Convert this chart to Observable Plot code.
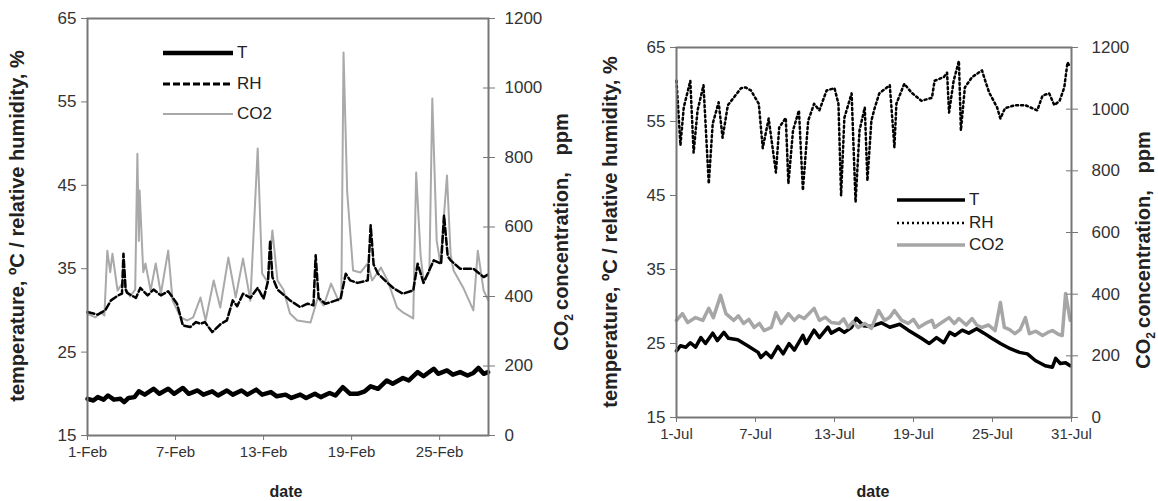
<!DOCTYPE html>
<html>
<head>
<meta charset="utf-8">
<script src="https://cdn.jsdelivr.net/npm/d3@7"></script>
<script src="https://cdn.jsdelivr.net/npm/@observablehq/plot@0.6"></script>
<style>
  html, body { margin: 0; padding: 0; background: #fff; }
  #wrap { position: relative; width: 1158px; height: 501px; font-family: "Liberation Sans", Arial, Helvetica, sans-serif; color: #333; }
  .panel { position: absolute; top: 0; }
  .ytitle { position: absolute; font-weight: bold; font-size: 20px; color: #222; white-space: nowrap; transform: translate(-50%, -50%) rotate(-90deg); }
  .xtitle { position: absolute; font-weight: bold; font-size: 16px; color: #222; transform: translate(-50%, -50%); }
  .leg { position: absolute; font-size: 17px; color: #222; }
  .leg .row { position: absolute; display: flex; align-items: center; white-space: nowrap; }
  .leg svg { display: block; margin-right: 4px; }
  sub { font-size: 12px; }
</style>
</head>
<body>
<div id="wrap"></div>
<script>
// ---------------- DATA ----------------
// [day of month (fractional), value]
const febTemp = [
  [1.0,19.4],[1.4,19.2],[1.7,19.6],[2.1,19.3],[2.4,19.8],[2.8,19.3],[3.25,19.4],[3.5,19.0],[3.8,19.5],[4.2,19.6],
  [4.5,20.3],[4.9,19.9],[5.5,20.6],[5.9,20.0],[6.5,20.6],[6.9,20.0],[7.5,20.7],[7.9,20.0],[8.5,20.4],[8.9,19.9],
  [9.5,20.3],[9.9,19.8],[10.5,20.4],[10.9,19.9],[11.5,20.4],[11.9,19.9],[12.5,20.5],[12.9,19.9],[13.5,20.2],[13.9,19.7],
  [14.5,19.9],[14.9,19.5],[15.5,19.9],[15.9,19.5],[16.5,20.0],[16.9,19.6],[17.5,20.1],[17.9,19.8],[18.4,20.8],[18.9,20.0],
  [19.4,20.0],[19.9,20.3],[20.3,20.9],[20.8,20.6],[21.4,21.6],[21.8,21.2],[22.5,21.9],[22.9,21.6],[23.5,22.6],[23.9,22.1],
  [24.6,23.0],[24.9,22.4],[25.5,22.8],[25.9,22.3],[26.4,22.6],[26.9,22.2],[27.3,22.5],[27.65,23.1],[28.0,22.4],[28.3,22.6]
];
const febRH = [
  [1.0,29.8],[1.7,29.5],[2.2,30.0],[2.6,31.2],[3.1,31.8],[3.35,32.0],[3.45,36.8],[3.6,32.5],[3.7,32.1],[4.3,31.5],
  [4.6,32.7],[5.1,31.8],[5.5,32.5],[6.0,31.8],[6.5,32.3],[7.1,30.8],[7.5,28.2],[8.0,28.0],[8.4,28.6],[8.7,28.4],
  [9.0,28.6],[9.5,27.4],[10.1,28.4],[10.5,28.8],[10.9,31.2],[11.2,30.5],[11.6,32.0],[12.1,31.5],[12.6,32.7],[13.0,31.4],
  [13.3,33.5],[13.45,38.4],[13.6,34.0],[13.95,32.5],[14.8,31.2],[15.5,30.4],[16.0,30.8],[16.4,30.6],[16.55,36.6],[16.75,31.5],
  [17.2,30.8],[17.6,31.0],[18.25,31.4],[18.6,34.4],[18.9,33.6],[19.4,33.3],[20.1,33.6],[20.3,40.2],[20.5,35.5],[20.8,34.4],
  [21.45,33.3],[21.9,32.6],[22.5,32.0],[23.2,32.4],[23.5,35.6],[23.9,33.3],[24.6,36.0],[25.1,35.6],[25.3,41.4],[25.55,36.5],
  [25.75,36.0],[26.4,35.0],[27.3,35.0],[28.0,34.0],[28.3,34.3]
];
const febCO2 = [
  [1.0,350],[1.55,340],[1.9,355],[2.15,345],[2.35,532],[2.55,470],[2.7,523],[3.05,417],[3.4,440],[3.9,400],
  [4.25,420],[4.4,811],[4.5,560],[4.55,705],[4.8,470],[4.95,495],[5.3,417],[5.65,495],[6.0,408],[6.5,532],
  [6.8,388],[7.35,340],[7.8,331],[8.2,340],[8.7,397],[9.05,331],[9.6,446],[10.05,368],[10.6,512],[11.1,397],
  [11.6,509],[12.1,388],[12.6,826],[12.9,466],[13.3,440],[13.6,590],[13.95,446],[14.35,420],[14.8,351],[15.3,331],
  [16.2,325],[16.7,397],[17.1,374],[17.6,437],[18.1,388],[18.3,400],[18.45,1102],[18.7,700],[19.1,475],[19.6,469],
  [20.1,495],[20.4,446],[21.0,483],[21.45,446],[22.1,368],[22.5,354],[23.2,337],[23.4,757],[23.7,520],[23.9,446],
  [24.3,470],[24.5,970],[24.8,560],[25.05,495],[25.5,748],[25.75,520],[25.95,475],[26.6,426],[27.3,360],[27.6,532],
  [28.0,417],[28.3,390]
];
const julTemp = [
  [1.0,24.0],[1.3,24.7],[1.7,24.5],[2.05,25.1],[2.45,24.5],[2.85,25.8],[3.2,25.0],[3.75,26.4],[4.1,25.4],[4.6,26.5],
  [4.95,25.7],[5.65,25.5],[6.4,24.7],[7.2,23.8],[7.4,23.1],[7.8,23.8],[8.2,23.1],[8.7,24.6],[9.1,23.6],[9.55,25.0],
  [9.95,24.1],[10.6,26.1],[10.85,25.0],[11.45,26.8],[11.85,25.8],[12.5,27.2],[12.75,26.4],[13.35,27.0],[13.75,26.5],[14.3,27.2],
  [14.65,28.4],[15.2,27.4],[15.8,27.3],[16.55,27.8],[17.2,27.2],[17.95,27.6],[18.6,26.8],[19.6,25.7],[20.2,25.0],[20.75,25.8],
  [21.3,25.1],[21.75,26.5],[22.15,26.1],[22.7,26.8],[23.2,26.4],[23.8,27.0],[24.35,26.4],[24.95,25.7],[25.6,25.0],[26.35,24.3],
  [27.05,23.8],[27.65,23.6],[28.25,22.7],[29.0,22.0],[29.55,21.8],[29.8,23.0],[30.15,22.3],[30.55,22.4],[30.9,22.0]
];
const julRH = [
  [1.0,60.5],[1.3,51.8],[1.55,56.9],[2.05,60.5],[2.3,50.8],[2.6,56.5],[3.05,59.9],[3.45,46.6],[3.75,54.7],[4.2,57.6],
  [4.5,52.8],[4.9,57.2],[5.9,59.5],[6.25,59.6],[6.65,59.2],[7.25,57.4],[7.55,51.4],[8.0,55.4],[8.55,48.1],[8.8,54.2],
  [9.3,55.5],[9.5,46.6],[9.85,53.8],[10.3,56.5],[10.6,45.7],[11.0,55.1],[11.45,57.4],[11.85,56.5],[12.4,59.2],[13.0,59.5],
  [13.3,57.4],[13.5,45.0],[13.75,55.5],[14.3,58.8],[14.6,44.1],[14.9,53.8],[15.3,56.9],[15.5,47.0],[15.8,55.1],[16.05,56.8],
  [16.4,58.8],[17.2,59.9],[17.55,51.5],[17.7,57.4],[18.3,60.1],[18.85,58.9],[19.6,57.8],[20.4,58.2],[20.6,60.5],[21.3,61.0],
  [21.55,61.6],[21.7,56.2],[22.05,60.5],[22.45,63.2],[22.6,53.8],[22.9,59.6],[23.45,61.0],[24.2,61.9],[24.45,60.5],[24.75,58.9],
  [25.35,56.9],[25.6,55.4],[25.95,56.8],[26.7,57.2],[27.5,57.2],[28.4,56.5],[28.8,58.5],[29.3,58.8],[29.7,57.2],[30.1,57.8],
  [30.45,59.6],[30.7,63.0],[30.9,62.3]
];
const julCO2 = [
  [1.0,315],[1.45,337],[1.85,308],[2.45,324],[3.0,315],[3.45,354],[3.8,324],[4.35,396],[4.75,337],[5.35,315],
  [5.7,330],[6.1,305],[6.5,318],[6.9,292],[7.3,305],[7.65,282],[8.2,292],[8.55,340],[8.95,305],[9.5,337],
  [9.95,315],[10.3,330],[10.7,321],[11.45,354],[11.85,315],[12.3,325],[12.75,308],[13.35,305],[13.7,320],[14.05,292],
  [14.4,310],[14.8,292],[15.3,305],[15.8,289],[16.35,347],[16.8,315],[17.2,325],[17.55,347],[18.1,315],[18.6,305],
  [19.0,318],[19.4,292],[19.9,305],[20.4,315],[20.6,292],[21.2,310],[21.7,324],[22.1,305],[22.45,321],[23.0,300],
  [23.45,321],[23.8,300],[24.2,292],[24.7,300],[25.2,282],[25.6,373],[25.9,292],[26.3,285],[26.7,272],[27.1,285],
  [27.5,324],[27.8,272],[28.3,280],[28.8,266],[29.2,276],[29.55,282],[30.0,270],[30.3,266],[30.55,402],[30.9,315]
];
const febTickDays = [1, 7, 13, 19, 25];
const julTickDays = [1, 7, 13, 19, 25, 31];
const leftTicks = [15, 25, 35, 45, 55, 65];
const co2Ticks = [0, 200, 400, 600, 800, 1000, 1200];

// ---------------- HELPERS ----------------
const DAY = 864e5;
const feb0 = Date.UTC(2009, 1, 1);
const jul0 = Date.UTC(2009, 6, 1);
const toDate = (base, d) => new Date(base + (d - 1) * DAY);
const rows = (base, arr) => arr.map(([d, v]) => ({date: toDate(base, d), v}));
const co2ToLeft = c => 15 + c / 24;   // 0..1200 ppm mapped onto 15..65
const fmt = d3.utcFormat("%-d-%b");

function panel(opts) {
  const {base, endDay, temp, rh, co2, tickDays, margins, tWidth, rhDash, rhWidth, co2Width, co2Color, co2OnTop, rightPad} = opts;
  const co2Line = Plot.line(rows(base, co2), {x: "date", y: d => co2ToLeft(d.v), stroke: co2Color, strokeWidth: co2Width, strokeLinejoin: "round"});
  const rhLine = Plot.line(rows(base, rh), {x: "date", y: "v", stroke: "#000", strokeWidth: rhWidth, strokeDasharray: rhDash});
  const tLine = Plot.line(rows(base, temp), {x: "date", y: "v", stroke: "#000", strokeWidth: tWidth, strokeLinejoin: "round"});
  const series = co2OnTop ? [tLine, rhLine, co2Line] : [co2Line, rhLine, tLine];
  return Plot.plot({
    width: 579, height: 501,
    ...margins,
    style: {fontFamily: "'Liberation Sans', Arial, sans-serif", fontSize: "17px", color: "#333", background: "transparent", overflow: "visible"},
    x: {type: "utc", domain: [toDate(base, 1), toDate(base, endDay)]},
    y: {domain: [15, 65]},
    marks: [
      ...series,
      Plot.frame({stroke: "#777", strokeWidth: 2}),
      Plot.axisX(tickDays.map(d => toDate(base, d)), {tickFormat: fmt, tickSize: 5, tickPadding: 6, label: null, stroke: "#777", fontSize: 15}),
      Plot.axisY(leftTicks, {anchor: "left", tickSize: 6, tickPadding: 5, label: null, stroke: "#777"}),
      Plot.axisY(co2Ticks.map(co2ToLeft), {anchor: "right", tickSize: 6, tickPadding: rightPad, label: null, stroke: "#777", tickFormat: d => String(Math.round((d - 15) * 24))}),
      Plot.axisY(co2Ticks.map(co2ToLeft), {anchor: "right", tickSize: -6, label: null, stroke: "#777", tickFormat: () => ""})
    ]
  });
}

const wrap = document.getElementById("wrap");

const left = panel({
  base: feb0, endDay: 28.33, temp: febTemp, rh: febRH, co2: febCO2, tickDays: febTickDays,
  margins: {marginLeft: 87, marginRight: 91, marginTop: 18, marginBottom: 66},
  tWidth: 4.5, rhDash: "7,3", rhWidth: 2.5, co2Width: 2, co2Color: "#a9a9a9", co2OnTop: false, rightPad: 10
});
const right = panel({
  base: jul0, endDay: 31, temp: julTemp, rh: julRH, co2: julCO2, tickDays: julTickDays,
  margins: {marginLeft: 97, marginRight: 87, marginTop: 47, marginBottom: 84},
  tWidth: 3.5, rhDash: "2,3", rhWidth: 2.5, co2Width: 3.5, co2Color: "#a6a6a6", co2OnTop: true, rightPad: 14
});
left.classList.add("panel"); left.style.left = "0px";
right.classList.add("panel"); right.style.left = "579px";
wrap.appendChild(left); wrap.appendChild(right);

// axis titles
function addText(cls, html, x, y) {
  const el = document.createElement("div");
  el.className = cls; el.innerHTML = html;
  el.style.left = x + "px"; el.style.top = y + "px";
  wrap.appendChild(el);
}
const yTitle = "temperature, ºC / relative humidity, %";
const co2Title = "CO<sub>2</sub>&#8201;concentration,&nbsp;&nbsp; ppm";
addText("ytitle", yTitle, 17, 226);
addText("ytitle", co2Title, 563, 232);
addText("xtitle", "date", 286, 492);
addText("ytitle", yTitle, 610, 232);
addText("ytitle", co2Title, 1145, 250);
addText("xtitle", "date", 873, 492);

// legends
function legend(x, y, gap, lineLen, items) {
  const lg = document.createElement("div");
  lg.className = "leg"; lg.style.left = x + "px"; lg.style.top = y + "px";
  items.forEach((it, i) => {
    const r = document.createElement("div");
    r.className = "row"; r.style.top = (i * gap) + "px";
    r.innerHTML = `<svg width="${lineLen}" height="10"><line x1="0" y1="5" x2="${lineLen}" y2="5" stroke="${it.color}" stroke-width="${it.width}" ${it.dash ? `stroke-dasharray="${it.dash}"` : ""}/></svg><span>${it.label}</span>`;
    lg.appendChild(r);
  });
  wrap.appendChild(lg);
}
legend(163, 43, 30.5, 70, [
  {label: "T", color: "#000", width: 4.5},
  {label: "RH", color: "#000", width: 3, dash: "7,3"},
  {label: "CO2", color: "#a9a9a9", width: 2}
]);
legend(897, 190, 22.5, 68, [
  {label: "T", color: "#000", width: 3.5},
  {label: "RH", color: "#000", width: 2.5, dash: "2,3"},
  {label: "CO2", color: "#a6a6a6", width: 3.5}
]);
</script>
</body>
</html>
